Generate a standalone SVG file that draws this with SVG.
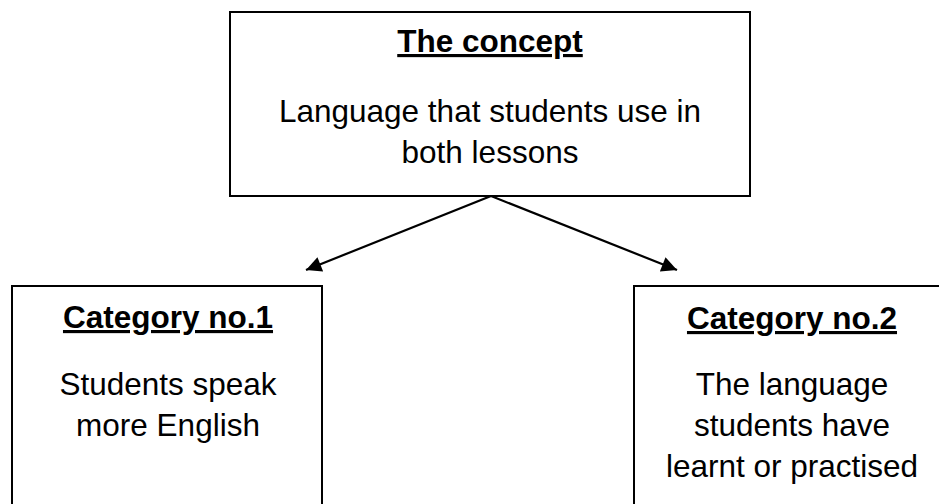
<svg xmlns="http://www.w3.org/2000/svg" width="939" height="504" viewBox="0 0 939 504">
<defs>
<style>
.box{fill:#fff;stroke:#000;stroke-width:2}
.t{font-family:"Liberation Sans",Arial,sans-serif;font-size:31.5px;fill:#000;text-anchor:middle}
.h{font-weight:bold;text-decoration:underline}
.c{stroke:#000;stroke-width:2.2;fill:none}
</style>
<marker id="ah" viewBox="0 0 10 10" refX="10" refY="5" markerWidth="8" markerHeight="7" markerUnits="strokeWidth" orient="auto">
<path d="M0,0 L10,5 L0,10 z" fill="#000"/>
</marker>
</defs>
<rect width="939" height="504" fill="#fff"/>
<g id="connectors">
<line class="c" x1="491" y1="196" x2="306" y2="270" marker-end="url(#ah)"/>
<line class="c" x1="491" y1="196" x2="677" y2="270" marker-end="url(#ah)"/>
</g>
<g id="concept">
<rect class="box" x="230" y="12" width="520" height="184"/>
<text class="t h" x="490" y="52">The concept</text>
<text class="t" x="490" y="122">Language that students use in</text>
<text class="t" x="490" y="163">both lessons</text>
</g>
<g id="category1">
<rect class="box" x="12" y="286" width="310" height="230"/>
<text class="t h" x="168" y="328">Category no.1</text>
<text class="t" x="168" y="395">Students speak</text>
<text class="t" x="168" y="436">more English</text>
</g>
<g id="category2">
<rect class="box" x="634" y="286" width="316" height="230"/>
<text class="t h" x="792" y="329">Category no.2</text>
<text class="t" x="792" y="395">The language</text>
<text class="t" x="792" y="436">students have</text>
<text class="t" x="792" y="477">learnt or practised</text>
</g>
</svg>
